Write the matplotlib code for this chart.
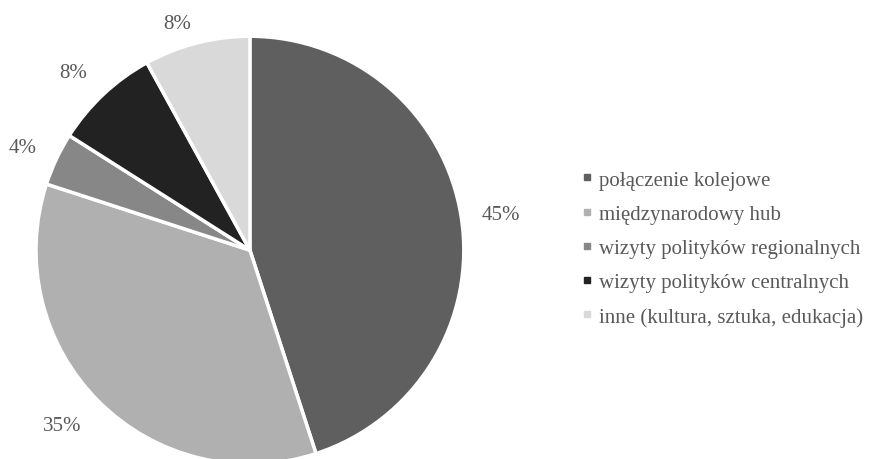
import numpy as np
import matplotlib.pyplot as plt
from matplotlib.lines import Line2D

plt.rcParams['font.family'] = ['Liberation Serif', 'DejaVu Serif']

labels = ['połączenie kolejowe', 'międzynarodowy hub', 'wizyty polityków regionalnych',
          'wizyty polityków centralnych', 'inne (kultura, sztuka, edukacja)']
values = [45, 35, 4, 8, 8]
colors = ['#5f5f5f', '#b0b0b0', '#878787', '#222222', '#d9d9d9']
text_color = '#595959'
# label placement: distance in pie radii and small angle nudge in degrees
label_dist = [1.185, 1.20, 1.167, 1.173, 1.114]
label_nudge = [-1, -2, 1, 1.6, 3.4]

fig = plt.figure(figsize=(8.84, 4.6), dpi=100)
ax = fig.add_axes([0.0407, -0.011, 0.484, 0.930])

wedges, texts = ax.pie(values, colors=colors, startangle=90, counterclock=False,
                       wedgeprops=dict(edgecolor='white', linewidth=2.5))
total = sum(values)
for w, v, d, n in zip(wedges, values, label_dist, label_nudge):
    ang = np.deg2rad((w.theta1 + w.theta2) / 2 + n)
    ax.text(d * np.cos(ang), d * np.sin(ang), '%d%%' % round(100 * v / total),
            ha='center', va='center', color=text_color, fontsize=15)
ax.set_xlim(-1, 1)
ax.set_ylim(-1, 1)
ax.set_aspect('equal')

handles = [Line2D([], [], marker='s', linestyle='', markersize=5, color=c) for c in colors]
fig.legend(handles, labels, loc='center left', bbox_to_anchor=(0.655, 0.458), frameon=False,
           handletextpad=0.15, handlelength=0.8, labelspacing=0.7, fontsize=15,
           labelcolor=text_color, borderaxespad=0, borderpad=0)

fig.savefig('out.png', dpi=100)
